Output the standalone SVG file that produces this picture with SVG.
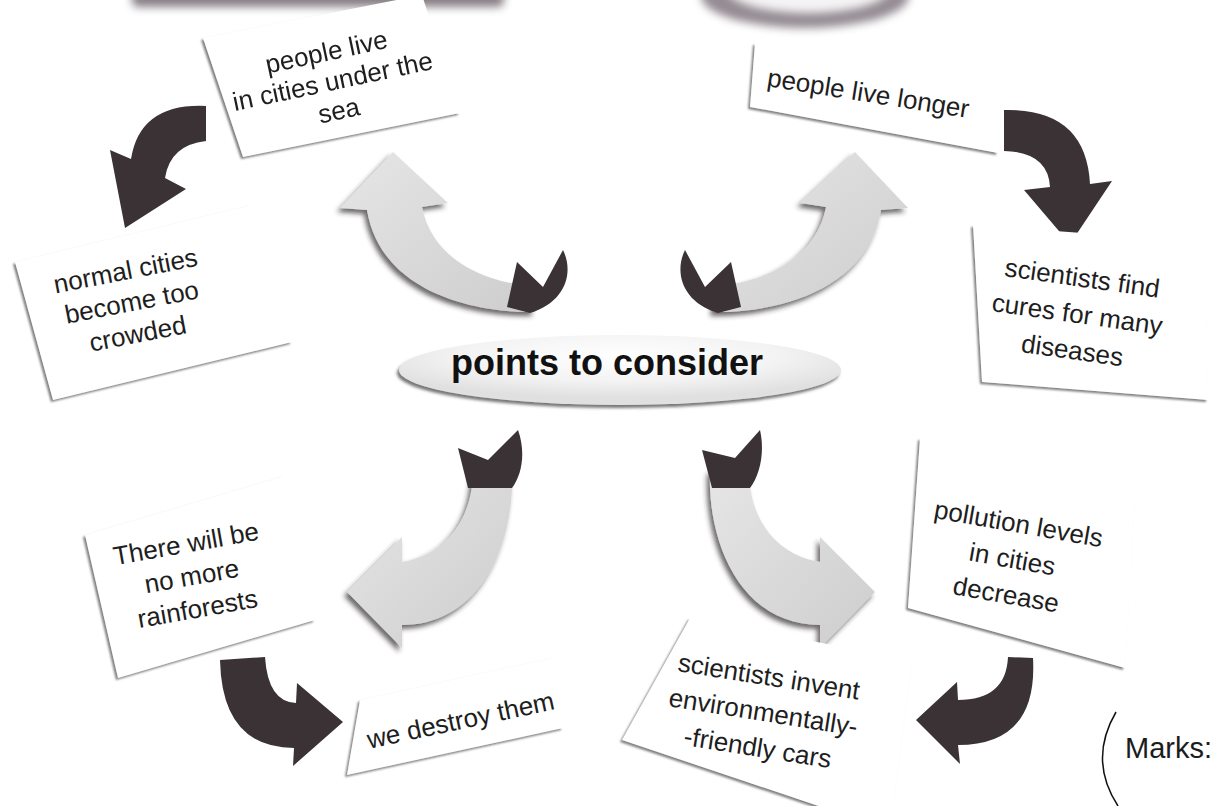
<svg xmlns="http://www.w3.org/2000/svg" width="1214" height="806" viewBox="0 0 1214 806">
<style>
.card{fill:#ffffff;filter:url(#cardShadow)}
.lbl{font-family:"Liberation Sans",Arial,Helvetica,sans-serif;font-size:26px;fill:#1e1e1e;text-anchor:middle}
.dark{fill:#3a3234}
.light{fill:url(#lightGrad);filter:url(#arrowShadow)}
.tail{fill:#3a3234}
</style>
<defs>
<filter id="cardShadow" x="-10%" y="-10%" width="125%" height="130%">
<feDropShadow dx="-2" dy="2" stdDeviation="1" flood-color="#6a6a6a" flood-opacity="0.85"/>
</filter>
<filter id="arrowShadow" x="-20%" y="-20%" width="140%" height="140%">
<feDropShadow dx="-3" dy="4" stdDeviation="2.5" flood-color="#2e2a2c" flood-opacity="0.7"/>
</filter>
<filter id="ellShadow" x="-10%" y="-30%" width="120%" height="160%">
<feDropShadow dx="-2" dy="3" stdDeviation="1.5" flood-color="#555" flood-opacity="0.8"/>
</filter>
<filter id="blur4" x="-20%" y="-50%" width="140%" height="200%">
<feGaussianBlur stdDeviation="4"/>
</filter>
<linearGradient id="lightGrad" x1="0" y1="0" x2="1" y2="1">
<stop offset="0" stop-color="#e6e6e6"/>
<stop offset="1" stop-color="#cdcdcd"/>
</linearGradient>
<radialGradient id="ellGrad" cx="0.5" cy="0.3" r="0.6">
<stop offset="0" stop-color="#ffffff"/>
<stop offset="0.6" stop-color="#f3f3f3"/>
<stop offset="1" stop-color="#e0e0e0"/>
</radialGradient>
</defs>
<rect x="0" y="0" width="1214" height="806" fill="#ffffff"/>

<g id="top-remnants" opacity="0.8">
<rect x="132" y="-14" width="372" height="21" rx="6" fill="#6a6068" filter="url(#blur4)"/>
<ellipse cx="805" cy="-4" rx="104" ry="32" fill="#7a7078" filter="url(#blur4)"/>
<ellipse cx="808" cy="-12" rx="82" ry="25" fill="#f3f1f3" filter="url(#blur4)"/>
</g>

<g id="connectors">
<path id="arrow-a" class="dark" d="M206,106 Q140,103 131,159 L110,150 L125,228 L186,189 L165,178 Q170,145 206,141 Z"/>
<path id="arrow-b" class="dark" d="M1004,110 Q1086,108 1090,184 L1112,181 L1070,244 L1024,190 L1050,187 Q1048,152 1004,151 Z"/>
<path id="arrow-c" class="dark" d="M220,660 L265,657 Q268,702 296,703 L297,683 L343,722 L293,766 L294,748 Q222,748 220,660 Z"/>
<path id="arrow-d" class="dark" d="M1008,657 L1033,658 Q1038,745 958,745 L960,764 L916,720 L957,682 L958,700 Q1006,700 1008,657 Z"/>

<g id="arrow-e">
<path class="light" d="M535,312 C470,313 380,290 367,210 L340,208 L393,152 L448,203 L422,207 C430,250 470,280 530,286 Z"/>
<path class="tail" d="M507,307 L517,262 L543,287 L563,250 C574,272 566,302 530,313 Z"/>
</g>
<g id="arrow-f">
<path class="light" d="M713,312 C778,313 868,290 881,210 L908,208 L855,152 L800,203 L826,207 C818,250 778,280 718,286 Z"/>
<path class="tail" d="M741,307 L731,262 L705,287 L685,250 C674,272 682,302 718,313 Z"/>
</g>
<g id="arrow-g">
<path class="light" d="M473,470 C473,520 445,555 402,562 L402,537 L347,592 L402,648 L402,625 C480,625 515,545 512,470 Z"/>
<path class="tail" d="M468,488 L458,448 L488,460 L518,430 C526,452 522,475 512,488 Z"/>
</g>
<g id="arrow-h">
<path class="light" d="M749,470 C749,520 777,555 820,562 L820,537 L875,592 L820,648 L820,625 C742,625 707,545 710,470 Z"/>
<path class="tail" d="M712,488 L702,450 L735,458 L760,430 C765,452 760,475 750,488 Z"/>
</g>
</g>

<g id="center">
<ellipse cx="620" cy="370" rx="221" ry="35" fill="url(#ellGrad)" filter="url(#ellShadow)"/>
<text x="607" y="375" font-family="Liberation Sans, Arial, sans-serif" font-size="36" font-weight="bold" fill="#111" text-anchor="middle">points to consider</text>
</g>

<g id="card-1">
<polygon class="card" points="203,38 422,-5 460,113 243,157"/>
<g transform="translate(333,83) rotate(-12)">
<text class="lbl" x="0" y="-23">people live</text>
<text class="lbl" x="0" y="7">in cities under the</text>
<text class="lbl" x="0" y="37">sea</text>
</g>
</g>

<g id="card-2">
<polygon class="card" points="755,43 1003,88 998,153 750,107"/>
<text class="lbl" transform="translate(868,95) rotate(9)" x="0" y="7">people live longer</text>
</g>

<g id="card-3">
<polygon class="card" points="15,262 252,205 292,342 53,400"/>
<g transform="translate(132,304) rotate(-11)">
<text class="lbl" x="0" y="-25">normal cities</text>
<text class="lbl" x="0" y="7">become too</text>
<text class="lbl" x="0" y="39">crowded</text>
</g>
</g>

<g id="card-4">
<polygon class="card" points="973,225 1205,242 1208,400 982,382"/>
<g transform="translate(1077,316) rotate(8)">
<text class="lbl" x="0" y="-29.5">scientists find</text>
<text class="lbl" x="0" y="7">cures for many</text>
<text class="lbl" x="0" y="43.5">diseases</text>
</g>
</g>

<g id="card-5">
<polygon class="card" points="85,535 285,476 315,620 118,678"/>
<g transform="translate(192,578) rotate(-10)">
<text class="lbl" x="0" y="-26">There will be</text>
<text class="lbl" x="0" y="7">no more</text>
<text class="lbl" x="0" y="40">rainforests</text>
</g>
</g>

<g id="card-6">
<polygon class="card" points="360,700 553,658 563,728 347,775"/>
<text class="lbl" transform="translate(461,722) rotate(-12)" x="0" y="7">we destroy them</text>
</g>

<g id="card-7">
<polygon class="card" points="920,438 1135,497 1125,668 908,608"/>
<g transform="translate(1012,561) rotate(10)">
<text class="lbl" x="0" y="-29">pollution levels</text>
<text class="lbl" x="0" y="7">in cities</text>
<text class="lbl" x="0" y="43">decrease</text>
</g>
</g>

<g id="card-8">
<polygon class="card" points="690,618 912,660 890,830 622,740"/>
<g transform="translate(763,714) rotate(9)">
<text class="lbl" x="0" y="-29">scientists invent</text>
<text class="lbl" x="0" y="7">environmentally-</text>
<text class="lbl" x="0" y="43">-friendly cars</text>
</g>
</g>

<g id="marks">
<path d="M1116,712 Q1088,760 1118,806" fill="none" stroke="#111" stroke-width="1.5"/>
<text x="1125" y="758" font-family="Liberation Sans, Arial, sans-serif" font-size="29" fill="#1c1c1c">Marks:</text>
</g>
</svg>
